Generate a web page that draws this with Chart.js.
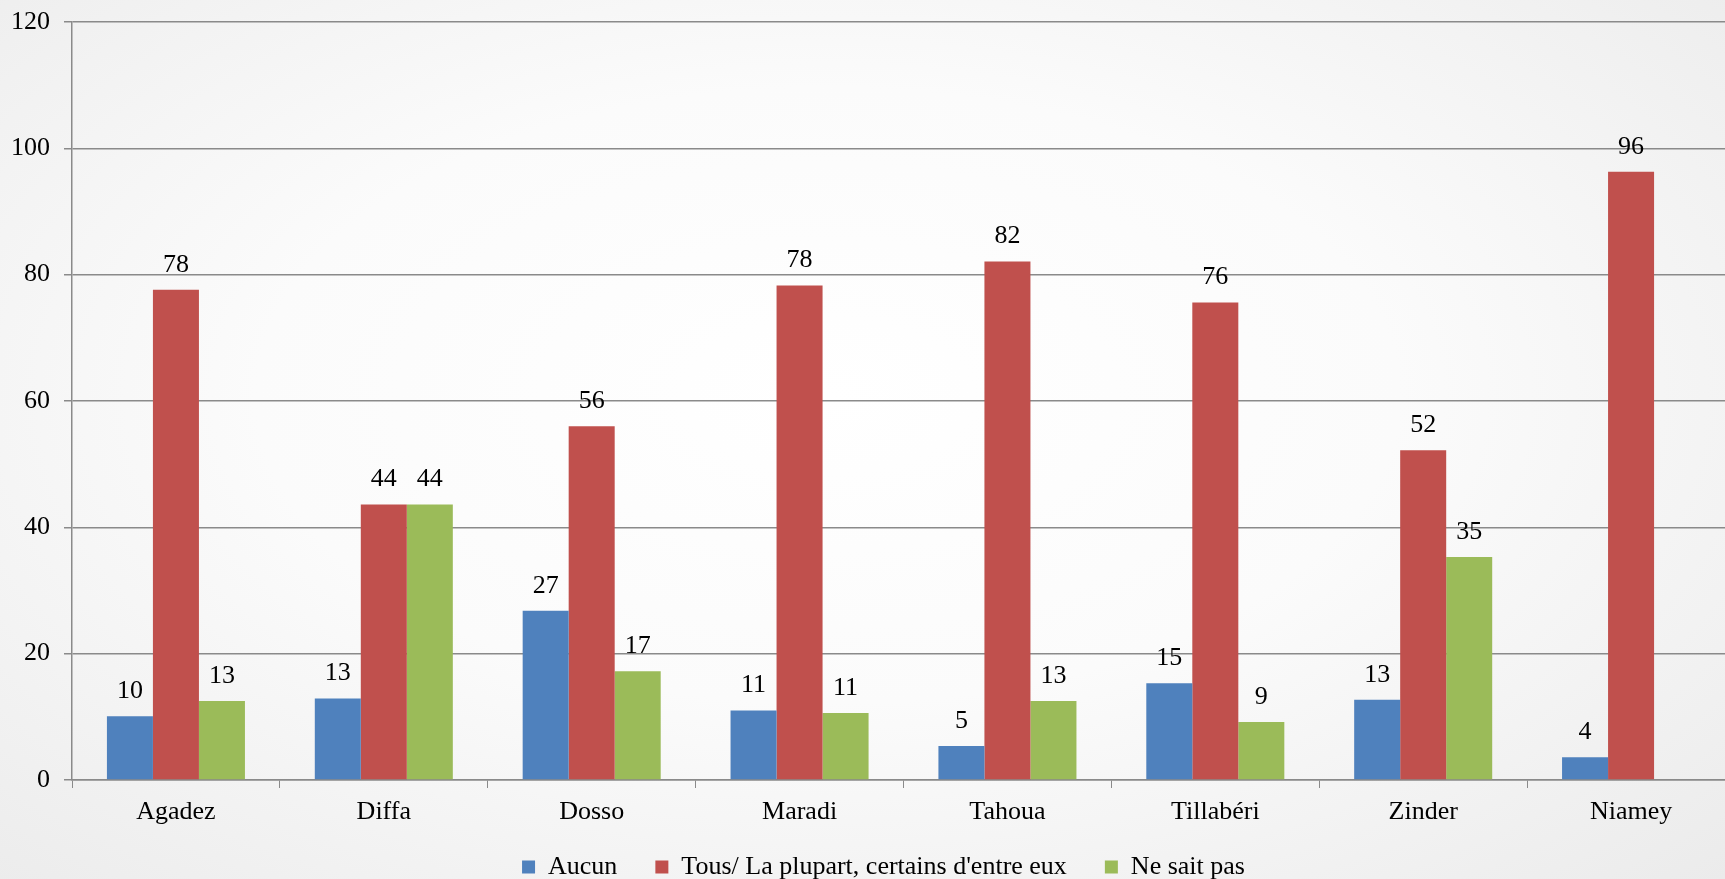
<!DOCTYPE html>
<html>
<head>
<meta charset="utf-8">
<script src="https://cdn.jsdelivr.net/npm/chart.js@4/dist/chart.umd.min.js"></script>
<style>
  html, body { margin: 0; padding: 0; width: 1725px; height: 879px; overflow: hidden; }
  body { background: radial-gradient(ellipse at 48% 45%, #ffffff 0%, #fbfbfb 45%, #ebebeb 100%); }
  #wrap { position: absolute; left: 0; top: 0; width: 1768px; height: 879px; }
</style>
</head>
<body>
<div id="wrap"><canvas id="chart" width="1768" height="879"></canvas></div>
<script>
// Régions
const regions = ['Agadez', 'Diffa', 'Dosso', 'Maradi', 'Tahoua', 'Tillabéri', 'Zinder', 'Niamey'];

// Séries (%)
const aucun = [10.1, 12.9, 26.8, 11.0, 5.4, 15.3, 12.7, 3.6];
const tousPlupart = [77.6, 43.6, 56.0, 78.3, 82.1, 75.6, 52.2, 96.3];
const neSaitPas = [12.5, 43.6, 17.2, 10.6, 12.5, 9.2, 35.3, null];

// Axe Y
const yMin = 0;
const yMax = 120;
const yStep = 20;

const gridColor = '#8a8a8a';
const fontFamily = '"Liberation Serif", "Times New Roman", serif';
const fontSize = 26;

// Étiquettes de valeur au-dessus des barres
const valueLabels = {
  id: 'valueLabels',
  afterDatasetsDraw(chart) {
    const ctx = chart.ctx;
    ctx.save();
    ctx.font = fontSize + 'px ' + fontFamily;
    ctx.fillStyle = '#000';
    ctx.textAlign = 'center';
    ctx.textBaseline = 'middle';
    chart.data.datasets.forEach((ds, i) => {
      const meta = chart.getDatasetMeta(i);
      meta.data.forEach((bar, j) => {
        const v = ds.data[j];
        if (v === null || v === undefined) return;
        ctx.fillText(Math.round(v), bar.x, bar.y - 25);
      });
    });
    ctx.restore();
  }
};

// remonte la légende (le padding des items la pousse trop bas) et la recentre
const legendShift = {
  id: 'legendShift',
  afterLayout(chart) {
    chart.legend.top -= 22;
    chart.legend.bottom = chart.height;
    chart.legend.left += 16;
    chart.legend.right += 16;
  }
};

new Chart(document.getElementById('chart'), {
  type: 'bar',
  data: {
    labels: regions,
    datasets: [
      { label: 'Aucun', data: aucun, backgroundColor: '#4F81BD' },
      { label: "Tous/ La plupart, certains d'entre eux", data: tousPlupart, backgroundColor: '#C0504D' },
      { label: 'Ne sait pas', data: neSaitPas, backgroundColor: '#9BBB59' }
    ]
  },
  options: {
    responsive: false,
    maintainAspectRatio: false,
    animation: false,
    categoryPercentage: 0.664,
    barPercentage: 1,
    layout: { padding: { top: 22, left: 0, right: 33, bottom: 0 } },
    plugins: {
      tooltip: { enabled: false },
      legend: {
        position: 'bottom',
        maxHeight: 41,
        labels: {
          font: { family: fontFamily, size: fontSize },
          color: '#000',
          boxWidth: 13,
          boxHeight: 13,
          padding: 38
        }
      }
    },
    scales: {
      x: {
        grid: { drawOnChartArea: false, drawTicks: true, tickLength: 8, color: gridColor, offset: true },
        border: { color: gridColor, width: 1.5 },
        ticks: { color: '#000', font: { family: fontFamily, size: fontSize }, padding: 9 },
        afterFit(scale) { scale.height = 58; }
      },
      y: {
        min: yMin,
        max: yMax,
        ticks: { stepSize: yStep, color: '#000', font: { family: fontFamily, size: fontSize }, padding: 14 },
        grid: { color: gridColor, lineWidth: 1.5, tickLength: 8 },
        border: { color: gridColor, width: 1.5 },
        afterFit(scale) { scale.width = 72; scale.paddingTop = 0; }
      }
    }
  },
  plugins: [valueLabels, legendShift]
});
</script>
</body>
</html>
